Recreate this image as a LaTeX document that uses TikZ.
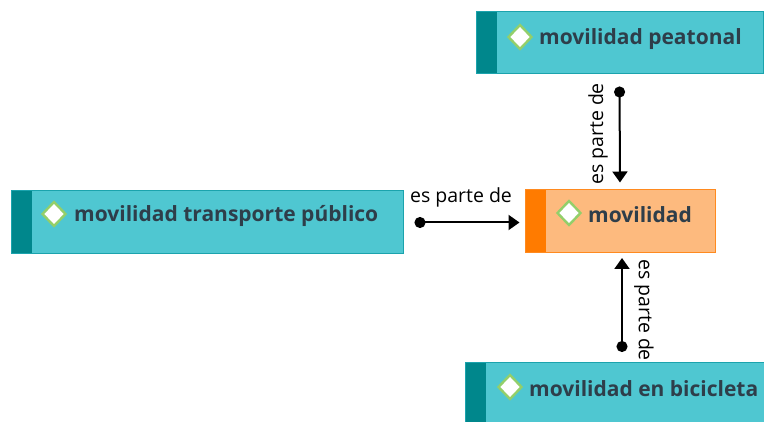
\documentclass[tikz,border=0pt]{standalone}
\usepackage{fontspec}
\setmainfont{Open Sans}
\usetikzlibrary{shapes.geometric,arrows.meta}
\definecolor{tealfill}{HTML}{4FC7D1}
\definecolor{tealdark}{HTML}{00878C}
\definecolor{tealline}{HTML}{1BA3AD}
\definecolor{orfill}{HTML}{FDBA7E}
\definecolor{ordark}{HTML}{FF7B00}
\definecolor{orline}{HTML}{FF8A1F}
\definecolor{txt}{HTML}{2E3E4A}
\definecolor{dgreen}{HTML}{93CF6A}
\tikzset{
  x=1pt,y=-1pt,
  tealbox/.style={rectangle,draw=tealline,line width=1pt,fill=tealfill,inner sep=0pt,
    path picture={\fill[tealdark] (path picture bounding box.north west) rectangle ([xshift=21pt]path picture bounding box.south west);}},
  orbox/.style={rectangle,draw=orline,line width=1pt,fill=orfill,inner sep=0pt,
    path picture={\fill[ordark] (path picture bounding box.north west) rectangle ([xshift=21pt]path picture bounding box.south west);}},
  icon/.style={diamond,draw=dgreen,line width=2.4pt,fill=white,minimum width=24pt,minimum height=25pt,inner sep=0pt},
  lbl/.style={anchor=west,text=txt,font=\fontsize{21}{25}\selectfont\bfseries,inner sep=0pt},
  conn/.style={line width=2pt,{Circle[length=11pt]}-{Triangle[length=11pt,width=15pt]}},
  rel/.style={font=\fontsize{19.5}{23}\selectfont,inner sep=0pt}
}
\begin{document}
\begin{tikzpicture}
\useasboundingbox (0,0) rectangle (764,422);
\clip (0,0) rectangle (764,422);
\fill[white] (0,0) rectangle (764,422);
% boxes
\node[tealbox,minimum width=392pt,minimum height=63pt] (tp) at (207,222.5) {};
\node[tealbox,minimum width=287pt,minimum height=62pt] (pea) at (619.5,43) {};
\node[orbox,minimum width=190pt,minimum height=63pt] (mov) at (620,221.5) {};
\node[tealbox,minimum width=300pt,minimum height=62pt] (bic) at (615,394) {};
\coordinate (bictop) at (622,363);
\coordinate (movbot) at (622,253);
% icons and labels
\node[icon] (tpi) at (54,214) {};
\node[lbl] (tpt) at (74,216) {movilidad transporte público};
\node[icon] (peai) at (520,37) {};
\node[lbl] (peat) at (539,39) {movilidad peatonal};
\node[icon] (movi) at (569,213) {};
\node[lbl] (movt) at (588,215) {movilidad};
\node[icon] (bici) at (510,387) {};
\node[lbl] (bict) at (529,389) {movilidad en bicicleta};
% connectors
\draw[conn,shorten <=12pt,shorten >=7pt] (pea.south) -- (mov.north);
\draw[conn,shorten <=11pt,shorten >=5pt] (bictop) -- (movbot);
\draw[conn,shorten <=11pt,shorten >=5pt] (tp.east) -- (tp.east -| mov.west);
% relation labels
\node[rel,rotate=90] (r1) at (598,134) {es parte de};
\node[rel,rotate=-90] (r2) at (644,310) {es parte de};
\node[rel] (r3) at (461,197) {es parte de};
\end{tikzpicture}
\end{document}
